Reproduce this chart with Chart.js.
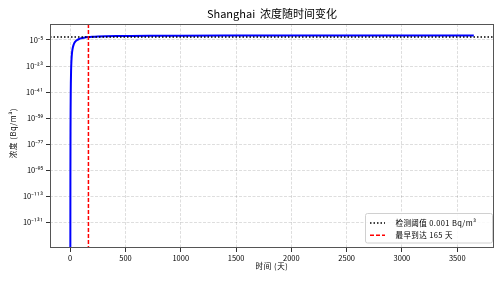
<!DOCTYPE html>
<html>
<head>
<meta charset="utf-8">
<script src="https://cdn.jsdelivr.net/npm/chart.js@4.4.1/dist/chart.umd.min.js"></script>
<style>
  html, body { margin: 0; padding: 0; background: #fff; }
</style>
</head>
<body>
<canvas id="chart" width="504" height="284"></canvas>
<script>
// Values (log y axis)
const days = [1, 2, 3, 4, 5, 6, 8, 10, 13, 16, 20, 25, 30, 40, 50, 65, 80, 100, 125, 165,
  200, 250, 320, 420, 550, 750, 1000, 1400, 2000, 2800, 3650];
const concentration = [1e-202, 1e-102, 3e-69, 1.6e-52, 1.6e-42, 8e-36, 1.6e-27, 1.6e-22, 6e-18, 5e-15,
  1.6e-12, 1.6e-10, 3e-9, 1.6e-7, 1.6e-6, 1.3e-5, 5e-5, 1.6e-4, 4e-4, 1e-3,
  1.6e-3, 2.5e-3, 3.7e-3, 5.2e-3, 6.9e-3, 8.5e-3, 1e-2, 1.15e-2, 1.26e-2, 1.35e-2, 1.4e-2];
const xTicks = [0, 500, 1000, 1500, 2000, 2500, 3000, 3500];
const yTicks = [1e-5, 1e-23, 1e-41, 1e-59, 1e-77, 1e-95, 1e-113, 1e-131];
const THRESHOLD = 0.001;
const ARRIVAL_DAY = 165;

const TITLE = 'Shanghai  浓度随时间变化';
const X_LABEL = '时间 (天)';
const Y_LABEL = '浓度 (Bq/m³)';
const LEGEND_LABELS = ['检测阈值 0.001 Bq/m³', '最早到达 ' + ARRIVAL_DAY + ' 天'];

const FONT = '"Noto Sans CJK SC", "Noto Sans", sans-serif';
const GRID = 'rgba(0, 0, 0, 0.13)';

const SUP = { '0': '⁰', '1': '¹', '2': '²', '3': '³', '4': '⁴', '5': '⁵', '6': '⁶', '7': '⁷', '8': '⁸', '9': '⁹', '-': '⁻' };
function powLabel(v) {
  const e = Math.round(Math.log10(v));
  return '10' + String(e).split('').map((c) => SUP[c]).join('');
}

const decor = {
  id: 'decor',
  afterDatasetsDraw(chart) {
    const { ctx, chartArea: a, scales } = chart;
    ctx.save();
    ctx.beginPath();
    ctx.rect(a.left, a.top, a.right - a.left, a.bottom - a.top);
    ctx.clip();
    // threshold line
    const y = scales.y.getPixelForValue(THRESHOLD);
    ctx.strokeStyle = '#000';
    ctx.lineWidth = 1.5;
    ctx.setLineDash([1.5, 2]);
    ctx.beginPath();
    ctx.moveTo(a.left, y);
    ctx.lineTo(a.right, y);
    ctx.stroke();
    // first arrival line
    const x = scales.x.getPixelForValue(ARRIVAL_DAY);
    ctx.strokeStyle = '#ff0000';
    ctx.setLineDash([4, 2]);
    ctx.beginPath();
    ctx.moveTo(x, a.top);
    ctx.lineTo(x, a.bottom);
    ctx.stroke();
    ctx.restore();
  },
  afterDraw(chart) {
    const { ctx, chartArea: a } = chart;
    ctx.save();
    // frame
    ctx.strokeStyle = '#555';
    ctx.lineWidth = 1;
    ctx.strokeRect(a.left + 0.5, a.top + 0.5, a.right - a.left - 1, a.bottom - a.top - 1);

    ctx.fillStyle = '#000';
    ctx.textAlign = 'center';
    ctx.textBaseline = 'middle';
    ctx.font = '11px ' + FONT;
    ctx.fillText(TITLE, (a.left + a.right) / 2, 14);
    ctx.font = '7.5px ' + FONT;
    ctx.letterSpacing = '0.6px';
    ctx.fillText(X_LABEL, (a.left + a.right) / 2, 266);
    ctx.save();
    ctx.translate(13, (a.top + a.bottom) / 2 - 3);
    ctx.rotate(-Math.PI / 2);
    ctx.fillText(Y_LABEL, 0, 0);
    ctx.restore();

    // legend
    const lx = 365, ly = 213.5, lw = 127, lh = 29.5;
    ctx.fillStyle = 'rgba(255,255,255,0.85)';
    ctx.strokeStyle = '#d0d0d0';
    ctx.lineWidth = 1;
    ctx.beginPath();
    ctx.roundRect(lx + 0.5, ly, lw, lh, 2);
    ctx.fill();
    ctx.stroke();
    const rows = [223, 235.3];
    ctx.lineWidth = 1.5;
    ctx.strokeStyle = '#000';
    ctx.setLineDash([1.5, 2]);
    ctx.beginPath(); ctx.moveTo(370, rows[0]); ctx.lineTo(385, rows[0]); ctx.stroke();
    ctx.strokeStyle = '#ff0000';
    ctx.setLineDash([4, 2]);
    ctx.beginPath(); ctx.moveTo(370, rows[1]); ctx.lineTo(385, rows[1]); ctx.stroke();
    ctx.setLineDash([]);
    ctx.fillStyle = '#000';
    ctx.textAlign = 'left';
    ctx.font = '7.5px ' + FONT;
    ctx.letterSpacing = '0.4px';
    ctx.fillText(LEGEND_LABELS[0], 395.5, rows[0]);
    ctx.fillText(LEGEND_LABELS[1], 395.5, rows[1]);
    ctx.restore();
  }
};

new Chart(document.getElementById('chart'), {
  type: 'line',
  data: {
    datasets: [{
      data: days.map((d, i) => ({ x: d, y: concentration[i] })),
      borderColor: '#0000ff',
      borderWidth: 2,
      pointRadius: 0,
      cubicInterpolationMode: 'monotone',
      fill: false,
    }],
  },
  options: {
    responsive: false,
    animation: false,
    events: [],
    layout: { padding: { left: 0, top: 24, right: 10, bottom: 0 } },
    plugins: { legend: { display: false }, title: { display: false }, tooltip: { enabled: false } },
    scales: {
      x: {
        type: 'linear',
        min: -182.5,
        max: 3832.5,
        afterBuildTicks: (s) => { s.ticks = xTicks.map((v) => ({ value: v })); },
        afterFit: (s) => { s.height = 36; },
        ticks: { color: '#000', font: { family: FONT, size: 7.5 }, padding: 2, maxRotation: 0, callback: (v) => String(v) },
        grid: { color: GRID, tickColor: '#333', tickLength: 4 },
        border: { display: false, dash: [3, 1.5] },
      },
      y: {
        type: 'logarithmic',
        min: Math.pow(10, -148.8),
        max: Math.pow(10, 6.06),
        afterBuildTicks: (s) => { s.ticks = yTicks.map((v) => ({ value: v })); },
        afterFit: (s) => { s.width = 50; },
        ticks: { color: '#000', font: { family: FONT, size: 7.5 }, padding: 3, callback: (v) => powLabel(v) },
        grid: { color: GRID, tickColor: '#333', tickLength: 4 },
        border: { display: false, dash: [3, 1.5] },
      },
    },
  },
  plugins: [decor],
});
</script>
</body>
</html>
